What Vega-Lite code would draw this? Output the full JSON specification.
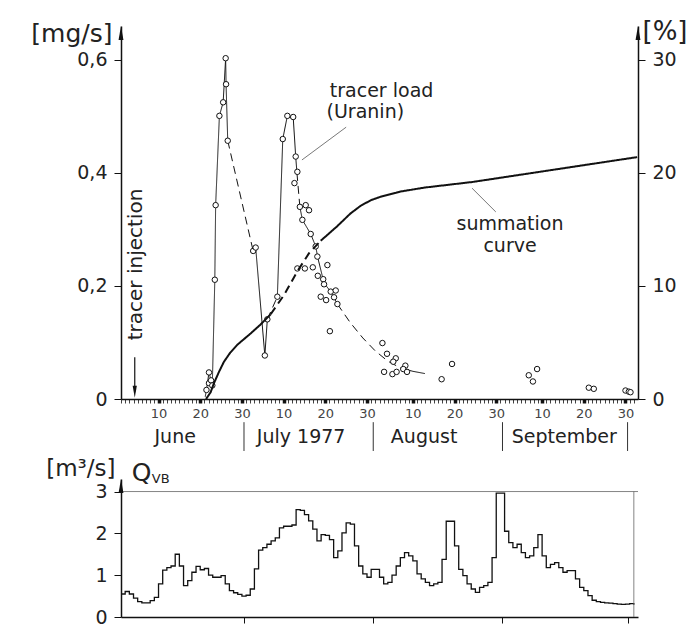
{
  "$schema": "https://vega.github.io/schema/vega-lite/v6.json",
  "padding": {"left": 30, "top": 18, "right": 5, "bottom": 3},
  "background": "white",
  "config": {
    "view": {"stroke": null},
    "font": "DejaVu Sans",
    "text": {"font": "DejaVu Sans", "color": "#222"},
    "axis": {"grid": false, "domainColor": "#111", "tickColor": "#111", "labelColor": "#222", "titleColor": "#222", "labelFont": "DejaVu Sans", "titleFont": "DejaVu Sans", "titleFontWeight": "normal"},
    "axisX": {"labelOverlap": false, "labelFlush": false}
  },
  "spacing": 80,
  "bounds": "flush",
  "vconcat": [
    {
      "width": 517,
      "height": 373,
      "layer": [
        {
          "layer": [
            {
              "data": {"values": [
                {"seg": "A", "kind": "measured", "day": 21.2, "v": 0.004},
                {"seg": "A", "kind": "measured", "day": 21.5, "v": 0.016},
                {"seg": "A", "kind": "measured", "day": 22.1, "v": 0.047},
                {"seg": "A", "kind": "measured", "day": 22.6, "v": 0.033},
                {"seg": "A", "kind": "measured", "day": 22.9, "v": 0.024},
                {"seg": "A", "kind": "measured", "day": 23.5, "v": 0.211},
                {"seg": "A", "kind": "measured", "day": 23.7, "v": 0.343},
                {"seg": "A", "kind": "measured", "day": 24.6, "v": 0.501},
                {"seg": "A", "kind": "measured", "day": 25.5, "v": 0.525},
                {"seg": "A", "kind": "measured", "day": 26.1, "v": 0.603},
                {"seg": "A", "kind": "measured", "day": 26.2, "v": 0.557},
                {"seg": "A", "kind": "measured", "day": 26.6, "v": 0.457},
                {"seg": "B", "kind": "estimated", "day": 26.6, "v": 0.457},
                {"seg": "B", "kind": "estimated", "day": 32.7, "v": 0.262},
                {"seg": "C", "kind": "measured", "day": 32.7, "v": 0.262},
                {"seg": "C", "kind": "measured", "day": 33.3, "v": 0.268},
                {"seg": "C", "kind": "measured", "day": 35.5, "v": 0.077},
                {"seg": "C", "kind": "measured", "day": 36.1, "v": 0.141},
                {"seg": "D", "kind": "estimated", "day": 36.1, "v": 0.141},
                {"seg": "D", "kind": "estimated", "day": 38.5, "v": 0.181},
                {"seg": "E", "kind": "measured", "day": 38.5, "v": 0.181},
                {"seg": "E", "kind": "measured", "day": 39.8, "v": 0.46},
                {"seg": "E", "kind": "measured", "day": 40.9, "v": 0.501},
                {"seg": "F", "kind": "measured", "day": 42.3, "v": 0.499},
                {"seg": "F", "kind": "measured", "day": 42.9, "v": 0.429},
                {"seg": "F", "kind": "measured", "day": 43.2, "v": 0.4},
                {"seg": "G", "kind": "estimated", "day": 43.2, "v": 0.4},
                {"seg": "G", "kind": "estimated", "day": 43.9, "v": 0.34},
                {"seg": "H", "kind": "measured", "day": 43.9, "v": 0.34},
                {"seg": "H", "kind": "measured", "day": 44.5, "v": 0.317},
                {"seg": "H", "kind": "measured", "day": 46.5, "v": 0.292},
                {"seg": "H", "kind": "measured", "day": 47.7, "v": 0.27},
                {"seg": "H", "kind": "measured", "day": 48.2, "v": 0.25},
                {"seg": "H", "kind": "measured", "day": 49.7, "v": 0.205},
                {"seg": "H", "kind": "measured", "day": 51.3, "v": 0.19},
                {"seg": "H", "kind": "measured", "day": 52.9, "v": 0.168},
                {"seg": "I", "kind": "estimated", "day": 52.9, "v": 0.168},
                {"seg": "I", "kind": "estimated", "day": 56, "v": 0.135},
                {"seg": "I", "kind": "estimated", "day": 59, "v": 0.108},
                {"seg": "I", "kind": "estimated", "day": 62, "v": 0.085},
                {"seg": "I", "kind": "estimated", "day": 65, "v": 0.067},
                {"seg": "I", "kind": "estimated", "day": 68, "v": 0.055},
                {"seg": "J", "kind": "measured", "day": 68, "v": 0.055},
                {"seg": "J", "kind": "measured", "day": 71, "v": 0.049},
                {"seg": "J", "kind": "measured", "day": 73.9, "v": 0.045}
              ]},
              "mark": {"type": "line", "stroke": "#111", "strokeWidth": 1},
              "encoding": {
                "x": {"field": "day", "type": "quantitative", "scale": {"domain": [1, 125], "nice": false, "zero": false},
                  "axis": {
                    "orient": "bottom",
                    "title": null,
                    "tickCount": 200,
                    "values": [1,2,3,4,5,6,7,8,9,10,11,12,13,14,15,16,17,18,19,20,21,22,23,24,25,26,27,28,29,30,31,32,33,34,35,36,37,38,39,40,41,42,43,44,45,46,47,48,49,50,51,52,53,54,55,56,57,58,59,60,61,62,63,64,65,66,67,68,69,70,71,72,73,74,75,76,77,78,79,80,81,82,83,84,85,86,87,88,89,90,91,92,93,94,95,96,97,98,99,100,101,102,103,104,105,106,107,108,109,110,111,112,113,114,115,116,117,118,119,120,121,122,123,124],
                    "labelExpr": "indexof([10,20,30,40,50,60,71,81,91,102,112,122], datum.value) >= 0 ? '' + (datum.value <= 30 ? datum.value : datum.value <= 61 ? datum.value - 30 : datum.value <= 92 ? datum.value - 61 : datum.value - 92) : ''",
                    "labelOverlap": false,
                    "labelFlush": false,
                    "labelFontSize": 13,
                    "labelColor": "#444",
                    "labelPadding": 4,
                    "tickSize": 4,
                    "tickWidth": {"condition": {"test": "indexof([10,20,30,40,50,60,71,81,91,102,112,122], datum.value) >= 0", "value": 3.5}, "value": 0.8},
                    "domainWidth": 1.5
                  }
                },
                "y": {"field": "v", "type": "quantitative", "scale": {"domain": [0, 0.66], "nice": false},
                  "axis": {
                    "orient": "left",
                    "values": [0, 0.2, 0.4, 0.6],
                    "labelExpr": "datum.value == 0 ? '0' : replace(format(datum.value, '.1f'), '.', ',')",
                    "labelFontSize": 19,
                    "tickSize": 7,
                    "labelPadding": 7,
                    "domainWidth": 1.5,
                    "title": "[mg/s]",
                    "titleAngle": 0,
                    "titleAlign": "right",
                    "titleBaseline": "alphabetic",
                    "titleX": -9,
                    "titleY": 15,
                    "titleFontSize": 25
                  }
                },
                "detail": {"field": "seg"},
                "strokeDash": {"field": "kind", "type": "nominal", "scale": {"domain": ["measured", "estimated"], "range": [[1, 0], [8, 5]]}, "legend": null}
              }
            },
            {
              "data": {"values": [
                {"day": 21.5, "v": 0.016}, {"day": 22.1, "v": 0.047}, {"day": 22.1, "v": 0.028}, {"day": 22.6, "v": 0.033}, {"day": 22.9, "v": 0.024},
                {"day": 23.5, "v": 0.211}, {"day": 23.7, "v": 0.343}, {"day": 24.6, "v": 0.501}, {"day": 25.5, "v": 0.525}, {"day": 26.1, "v": 0.603},
                {"day": 26.2, "v": 0.557}, {"day": 26.6, "v": 0.457}, {"day": 32.7, "v": 0.262}, {"day": 33.3, "v": 0.268}, {"day": 35.5, "v": 0.077},
                {"day": 36.1, "v": 0.141}, {"day": 38.5, "v": 0.181}, {"day": 39.8, "v": 0.46}, {"day": 40.9, "v": 0.501}, {"day": 42.3, "v": 0.499},
                {"day": 42.9, "v": 0.429}, {"day": 43.3, "v": 0.402}, {"day": 42.6, "v": 0.382}, {"day": 43.9, "v": 0.34}, {"day": 45.3, "v": 0.343},
                {"day": 46.1, "v": 0.334}, {"day": 44.5, "v": 0.317}, {"day": 46.5, "v": 0.292}, {"day": 47.7, "v": 0.27}, {"day": 48.1, "v": 0.252},
                {"day": 50.5, "v": 0.237}, {"day": 43.3, "v": 0.231}, {"day": 45.1, "v": 0.231}, {"day": 47.0, "v": 0.233}, {"day": 48.2, "v": 0.218},
                {"day": 49.5, "v": 0.212}, {"day": 49.7, "v": 0.203}, {"day": 51.3, "v": 0.19}, {"day": 52.5, "v": 0.192}, {"day": 52.1, "v": 0.18},
                {"day": 48.9, "v": 0.181}, {"day": 50.2, "v": 0.175}, {"day": 52.9, "v": 0.168}, {"day": 51.1, "v": 0.12}, {"day": 63.7, "v": 0.099},
                {"day": 64.8, "v": 0.08}, {"day": 66.9, "v": 0.072}, {"day": 66.3, "v": 0.066}, {"day": 64.1, "v": 0.048}, {"day": 66.1, "v": 0.044},
                {"day": 67.1, "v": 0.048}, {"day": 69.2, "v": 0.059}, {"day": 68.7, "v": 0.053}, {"day": 69.6, "v": 0.048}, {"day": 77.9, "v": 0.035},
                {"day": 80.4, "v": 0.062}, {"day": 98.8, "v": 0.042}, {"day": 100.8, "v": 0.053}, {"day": 99.8, "v": 0.031}, {"day": 113.2, "v": 0.02},
                {"day": 114.4, "v": 0.018}, {"day": 122.0, "v": 0.015}, {"day": 122.8, "v": 0.013}, {"day": 123.2, "v": 0.012}
              ]},
              "mark": {"type": "point", "shape": "circle", "size": 30, "filled": true, "fill": "white", "stroke": "#111", "strokeWidth": 1, "opacity": 1},
              "encoding": {
                "x": {"field": "day", "type": "quantitative"},
                "y": {"field": "v", "type": "quantitative"}
              }
            },
            {
              "data": {"values": [
                {"day": 63.5, "v": 0.535, "label": "tracer load"},
                {"day": 59.6, "v": 0.497, "label": "(Uranin)"},
                {"day": 94.3, "v": 0.299, "label": "summation"},
                {"day": 94.3, "v": 0.26, "label": "curve"}
              ]},
              "mark": {"type": "text", "fontSize": 19, "align": "center", "baseline": "alphabetic", "color": "#222"},
              "encoding": {
                "x": {"field": "day", "type": "quantitative"},
                "y": {"field": "v", "type": "quantitative"},
                "text": {"field": "label"}
              }
            },
            {
              "data": {"values": [
                {"day": 55.0, "v": 0.481, "day2": 44.4, "v2": 0.423},
                {"day": 85.2, "v": 0.373, "day2": 90.9, "v2": 0.331}
              ]},
              "mark": {"type": "rule", "stroke": "#555", "strokeWidth": 0.8},
              "encoding": {
                "x": {"field": "day", "type": "quantitative"},
                "x2": {"field": "day2"},
                "y": {"field": "v", "type": "quantitative"},
                "y2": {"field": "v2"}
              }
            },
            {
              "data": {"values": [{"day": 4.3, "v": 0.074, "v2": 0.012}]},
              "mark": {"type": "rule", "stroke": "#111", "strokeWidth": 1.2},
              "encoding": {
                "x": {"field": "day", "type": "quantitative"},
                "y": {"field": "v", "type": "quantitative"},
                "y2": {"field": "v2"}
              }
            },
            {
              "data": {"values": [{"day": 4.3, "v": 0.002}]},
              "mark": {"type": "point", "shape": "M0,0 L0.35,-2 L-0.35,-2 Z", "size": 144, "filled": true, "color": "#111", "opacity": 1},
              "encoding": {
                "x": {"field": "day", "type": "quantitative"},
                "y": {"field": "v", "type": "quantitative"}
              }
            },
            {
              "data": {"values": [{"day": 4.6, "v": 0.238, "label": "tracer injection"}]},
              "mark": {"type": "text", "fontSize": 20, "angle": 270, "align": "center", "baseline": "middle", "color": "#222"},
              "encoding": {
                "x": {"field": "day", "type": "quantitative"},
                "y": {"field": "v", "type": "quantitative"},
                "text": {"field": "label"}
              }
            },
            {
              "data": {"values": [
                {"day": 14.0, "v": -0.067, "label": "June"},
                {"day": 44.2, "v": -0.067, "label": "July 1977"},
                {"day": 73.7, "v": -0.067, "label": "August"},
                {"day": 107.3, "v": -0.067, "label": "September"}
              ]},
              "mark": {"type": "text", "fontSize": 19, "align": "center", "baseline": "middle", "color": "#222"},
              "encoding": {
                "x": {"field": "day", "type": "quantitative"},
                "y": {"field": "v", "type": "quantitative"},
                "text": {"field": "label"}
              }
            },
            {
              "data": {"values": [
                {"day": 30.5, "v": -0.041, "v2": -0.092},
                {"day": 61.5, "v": -0.041, "v2": -0.092},
                {"day": 92.5, "v": -0.041, "v2": -0.092},
                {"day": 122.5, "v": -0.041, "v2": -0.092}
              ]},
              "mark": {"type": "rule", "stroke": "#333", "strokeWidth": 1},
              "encoding": {
                "x": {"field": "day", "type": "quantitative"},
                "y": {"field": "v", "type": "quantitative"},
                "y2": {"field": "v2"}
              }
            },
            {
              "data": {"values": [{"day": 1, "v": 0.66}]},
              "mark": {"type": "point", "shape": "M0,0 L0.35,2 L-0.35,2 Z", "size": 196, "filled": true, "color": "#111", "opacity": 1},
              "encoding": {
                "x": {"field": "day", "type": "quantitative"},
                "y": {"field": "v", "type": "quantitative"}
              }
            }
          ]
        },
        {
          "layer": [
            {
              "data": {"values": [
                {"seg": 1, "kind": "measured", "day": 21.4, "pct": 0},
                {"seg": 1, "kind": "measured", "day": 22.5, "pct": 0.6},
                {"seg": 1, "kind": "measured", "day": 23.3, "pct": 1.4},
                {"seg": 1, "kind": "measured", "day": 24.5, "pct": 2.4},
                {"seg": 1, "kind": "measured", "day": 25.7, "pct": 3.3},
                {"seg": 1, "kind": "measured", "day": 27.2, "pct": 4.1},
                {"seg": 1, "kind": "measured", "day": 28.9, "pct": 4.8},
                {"seg": 1, "kind": "measured", "day": 32.1, "pct": 5.8},
                {"seg": 1, "kind": "measured", "day": 34.5, "pct": 6.6},
                {"seg": 1, "kind": "measured", "day": 36.9, "pct": 7.5},
                {"seg": 2, "kind": "estimated", "day": 36.9, "pct": 7.5},
                {"seg": 2, "kind": "estimated", "day": 40.1, "pct": 9.2},
                {"seg": 2, "kind": "estimated", "day": 43.3, "pct": 11.3},
                {"seg": 2, "kind": "estimated", "day": 46.1, "pct": 12.9},
                {"seg": 2, "kind": "estimated", "day": 48.9, "pct": 14.0},
                {"seg": 3, "kind": "measured", "day": 48.9, "pct": 14.0},
                {"seg": 3, "kind": "measured", "day": 52.9, "pct": 15.3},
                {"seg": 3, "kind": "measured", "day": 56.0, "pct": 16.4},
                {"seg": 3, "kind": "measured", "day": 58.5, "pct": 17.1},
                {"seg": 3, "kind": "measured", "day": 61.0, "pct": 17.6},
                {"seg": 3, "kind": "measured", "day": 63.3, "pct": 17.9},
                {"seg": 3, "kind": "measured", "day": 68.0, "pct": 18.35},
                {"seg": 3, "kind": "measured", "day": 73.7, "pct": 18.7},
                {"seg": 3, "kind": "measured", "day": 85.3, "pct": 19.2},
                {"seg": 3, "kind": "measured", "day": 124.8, "pct": 21.4}
              ]},
              "mark": {"type": "line", "stroke": "#111", "strokeWidth": 2},
              "encoding": {
                "x": {"field": "day", "type": "quantitative"},
                "y": {"field": "pct", "type": "quantitative", "scale": {"domain": [0, 33], "nice": false},
                  "axis": {
                    "orient": "right",
                    "values": [0, 10, 20, 30],
                    "labelFontSize": 19,
                    "tickSize": 7,
                    "labelPadding": 7,
                    "domainWidth": 1.5,
                    "title": "[%]",
                    "titleAngle": 0,
                    "titleAlign": "left",
                    "titleBaseline": "alphabetic",
                    "titleX": 4,
                    "titleY": 13,
                    "titleFontSize": 26
                  }
                },
                "detail": {"field": "seg"},
                "strokeDash": {"field": "kind", "type": "nominal", "scale": {"domain": ["measured", "estimated"], "range": [[1, 0], [8, 5]]}, "legend": null}
              }
            },
            {
              "data": {"values": [{"day": 125, "pct": 33}]},
              "mark": {"type": "point", "shape": "M0,0 L0.35,2 L-0.35,2 Z", "size": 196, "filled": true, "color": "#111", "opacity": 1},
              "encoding": {
                "x": {"field": "day", "type": "quantitative"},
                "y": {"field": "pct", "type": "quantitative"}
              }
            }
          ]
        }
      ],
      "resolve": {"scale": {"y": "independent"}, "axis": {"y": "independent"}}
    },
    {
      "width": 517,
      "height": 138,
      "layer": [
        {
          "data": {"values": [
            {"day":1,"q":0.55},{"day":2,"q":0.61},{"day":3,"q":0.55},{"day":4,"q":0.45},{"day":5,"q":0.37},{"day":6,"q":0.34},{"day":7,"q":0.34},{"day":8,"q":0.39},{"day":9,"q":0.47},{"day":10,"q":0.79},
            {"day":11,"q":1.12},{"day":12,"q":1.18},{"day":13,"q":1.22},{"day":14,"q":1.5},{"day":15,"q":1.22},{"day":16,"q":0.75},{"day":17,"q":0.87},{"day":18,"q":1.07},{"day":19,"q":1.21},{"day":20,"q":1.13},
            {"day":21,"q":1.16},{"day":22,"q":1.0},{"day":23,"q":0.95},{"day":24,"q":0.95},{"day":25,"q":0.99},{"day":26,"q":0.79},{"day":27,"q":0.63},{"day":28,"q":0.58},{"day":29,"q":0.54},{"day":30,"q":0.5},
            {"day":31,"q":0.52},{"day":32,"q":0.67},{"day":33,"q":1.15},{"day":34,"q":1.6},{"day":35,"q":1.66},{"day":36,"q":1.74},{"day":37,"q":1.82},{"day":38,"q":1.89},{"day":39,"q":2.13},{"day":40,"q":2.17},
            {"day":41,"q":2.17},{"day":42,"q":2.2},{"day":43,"q":2.57},{"day":44,"q":2.55},{"day":45,"q":2.45},{"day":46,"q":2.3},{"day":47,"q":2.1},{"day":48,"q":1.82},{"day":49,"q":1.97},{"day":50,"q":1.95},
            {"day":51,"q":1.85},{"day":52,"q":1.42},{"day":53,"q":1.58},{"day":54,"q":2.01},{"day":55,"q":2.25},{"day":56,"q":2.22},{"day":57,"q":1.7},{"day":58,"q":1.22},{"day":59,"q":1.03},{"day":60,"q":0.95},
            {"day":61,"q":1.14},{"day":62,"q":1.14},{"day":63,"q":0.95},{"day":64,"q":0.79},{"day":65,"q":0.83},{"day":66,"q":1.0},{"day":67,"q":1.22},{"day":68,"q":1.42},{"day":69,"q":1.54},{"day":70,"q":1.46},
            {"day":71,"q":1.34},{"day":72,"q":1.03},{"day":73,"q":0.91},{"day":74,"q":0.83},{"day":75,"q":0.75},{"day":76,"q":0.79},{"day":77,"q":0.83},{"day":78,"q":1.38},{"day":79,"q":2.29},{"day":80,"q":2.29},
            {"day":81,"q":1.7},{"day":82,"q":1.14},{"day":83,"q":0.99},{"day":84,"q":0.79},{"day":85,"q":0.67},{"day":86,"q":0.59},{"day":87,"q":0.71},{"day":88,"q":0.75},{"day":89,"q":0.83},{"day":90,"q":1.42},
            {"day":91,"q":2.96},{"day":92,"q":2.96},{"day":93,"q":2.05},{"day":94,"q":1.78},{"day":95,"q":1.66},{"day":96,"q":1.74},{"day":97,"q":1.54},{"day":98,"q":1.42},{"day":99,"q":1.46},{"day":100,"q":1.66},
            {"day":101,"q":1.97},{"day":102,"q":1.46},{"day":103,"q":1.18},{"day":104,"q":1.26},{"day":105,"q":1.3},{"day":106,"q":1.18},{"day":107,"q":1.07},{"day":108,"q":1.11},{"day":109,"q":1.11},{"day":110,"q":0.91},
            {"day":111,"q":0.71},{"day":112,"q":0.63},{"day":113,"q":0.51},{"day":114,"q":0.4},{"day":115,"q":0.37},{"day":116,"q":0.35},{"day":117,"q":0.34},{"day":118,"q":0.33},{"day":119,"q":0.32},{"day":120,"q":0.31},
            {"day":121,"q":0.3},{"day":122,"q":0.31},{"day":123,"q":0.32},{"day":124,"q":0.29}
          ]},
          "mark": {"type": "line", "interpolate": "step-after", "stroke": "#111", "strokeWidth": 1.3},
          "encoding": {
            "x": {"field": "day", "type": "quantitative", "scale": {"domain": [1, 125], "nice": false, "zero": false},
              "axis": {"orient": "bottom", "title": null, "values": [30.5, 61.5, 92.5, 122.5], "labels": false, "tickSize": 6, "domainWidth": 1.5}
            },
            "y": {"field": "q", "type": "quantitative", "scale": {"domain": [0, 3.3], "nice": false},
              "axis": {
                "orient": "left",
                "values": [0, 1, 2, 3],
                "labelFontSize": 19,
                "tickSize": 7,
                "labelPadding": 7,
                "domainWidth": 1.5,
                "title": "[m³/s]",
                "titleAngle": 0,
                "titleAlign": "right",
                "titleBaseline": "alphabetic",
                "titleX": -6,
                "titleY": -4,
                "titleFontSize": 23
              }
            }
          }
        },
        {
          "data": {"values": [{"q": 3}]},
          "mark": {"type": "rule", "stroke": "#666", "strokeWidth": 0.8},
          "encoding": {
            "y": {"field": "q", "type": "quantitative"}
          }
        },
        {
          "data": {"values": [{"day": 124, "q": 0, "q2": 3}]},
          "mark": {"type": "rule", "stroke": "#666", "strokeWidth": 0.8},
          "encoding": {
            "x": {"field": "day", "type": "quantitative"},
            "y": {"field": "q", "type": "quantitative"},
            "y2": {"field": "q2"}
          }
        },
        {
          "data": {"values": [{"day": 3.6, "q": 3.25, "label": "Q"}]},
          "mark": {"type": "text", "fontSize": 25, "align": "left", "baseline": "alphabetic", "color": "#222"},
          "encoding": {
            "x": {"field": "day", "type": "quantitative"},
            "y": {"field": "q", "type": "quantitative"},
            "text": {"field": "label"}
          }
        },
        {
          "data": {"values": [{"day": 8.4, "q": 3.2, "label": "VB"}]},
          "mark": {"type": "text", "fontSize": 13, "align": "left", "baseline": "alphabetic", "color": "#222"},
          "encoding": {
            "x": {"field": "day", "type": "quantitative"},
            "y": {"field": "q", "type": "quantitative"},
            "text": {"field": "label"}
          }
        },
        {
          "data": {"values": [{"day": 1, "q": 3.3}]},
          "mark": {"type": "point", "shape": "M0,0 L0.35,2 L-0.35,2 Z", "size": 196, "filled": true, "color": "#111", "opacity": 1},
          "encoding": {
            "x": {"field": "day", "type": "quantitative"},
            "y": {"field": "q", "type": "quantitative"}
          }
        }
      ]
    }
  ]
}
